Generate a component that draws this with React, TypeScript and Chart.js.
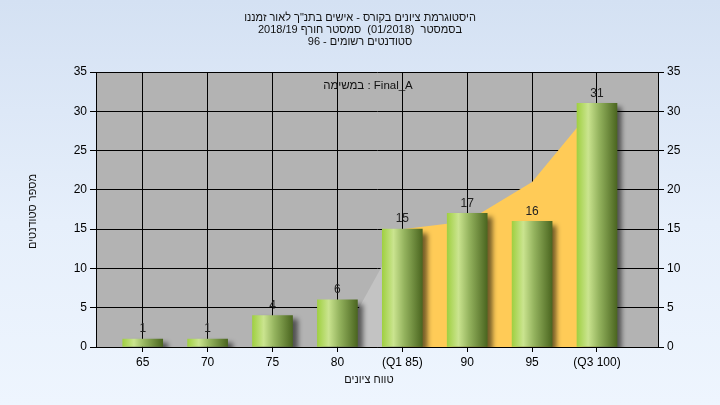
import React, { useEffect, useRef } from 'react';
import { Chart, registerables } from 'chart.js';

Chart.register(...registerables);

// ---- data ----
const grades = [65, 70, 75, 80, 85, 90, 95, 100];
const tickLabels = ['65', '70', '75', '80', '(Q1 85)', '90', '95', '(Q3 100)'];
const counts = [1, 1, 4, 6, 15, 17, 16, 31];
const lowerAreaX = [80, 85];
const lowerAreaY = [0, 15];
const iqrAreaX = [85, 90, 95, 100];
const iqrAreaY = [15, 16, 21, 31];
const yTicksMax = 35;
const yTickStep = 5;
const xMin = 61.4;
const xMax = 104.7;

const titleLines = [
  'היסטוגרמת ציונים בקורס - אישים בתנ"ך לאור זמננו',
  'בסמסטר  (01/2018)  סמסטר חורף 2018/19',
  'סטודנטים רשומים - 96',
];
const legendText = 'במשימה : Final_A';
const xTitle = 'טווח ציונים';
const yTitle = 'מספר סטודנטים';

const FONT = '"Liberation Sans", Arial, sans-serif';

// draws the words of a string one by one, placed from right to left, centred on cx
function drawWords(ctx: CanvasRenderingContext2D, text: string, cx: number, y: number) {
  const tokens = text.split(' ').reverse();
  const sp = ctx.measureText(' ').width;
  const widths = tokens.map((t) => (t ? ctx.measureText(t).width : 0));
  const total = widths.reduce((a, b) => a + b, 0) + sp * (tokens.length - 1);
  let x = cx - total / 2;
  ctx.save();
  ctx.textAlign = 'left';
  ctx.direction = 'ltr';
  tokens.forEach((t, i) => {
    if (t) ctx.fillText(t, x, y);
    x += widths[i] + sp;
  });
  ctx.restore();
}

export default function App() {
  const ref = useRef<HTMLCanvasElement | null>(null);

  useEffect(() => {
    const canvas = ref.current;
    if (!canvas) return;

    const plotBg = {
      id: 'plotBg',
      beforeDraw(chart: any) {
        const { ctx, chartArea: a } = chart;
        if (!a) return;
        ctx.save();
        ctx.fillStyle = '#B3B3B3';
        ctx.fillRect(a.left, a.top, a.right - a.left, a.bottom - a.top);
        ctx.restore();
      },
    };

    const barShadow = {
      id: 'barShadow',
      beforeDatasetDraw(chart: any, args: any) {
        if (args.meta.type !== 'bar') return;
        const ctx = chart.ctx;
        ctx.save();
        ctx.shadowColor = 'rgba(0,0,0,0.55)';
        ctx.shadowBlur = 5;
        ctx.shadowOffsetX = 5;
        ctx.shadowOffsetY = 4;
      },
      afterDatasetDraw(chart: any, args: any) {
        if (args.meta.type !== 'bar') return;
        chart.ctx.restore();
      },
    };

    const texts = {
      id: 'texts',
      afterDraw(chart: any) {
        const { ctx, chartArea: a } = chart;
        ctx.save();
        ctx.fillStyle = '#111';
        ctx.font = `11px ${FONT}`;
        ctx.textAlign = 'center';
        ctx.textBaseline = 'middle';
        ctx.direction = 'ltr';
        titleLines.forEach((t, i) => {
          drawWords(ctx, t, 360, 18 + i * 12);
        });
        drawWords(ctx, xTitle, 369, 380);
        ctx.save();
        ctx.translate(33, (a.top + a.bottom) / 2 + 2);
        ctx.rotate(-Math.PI / 2);
        ctx.direction = 'rtl';
        ctx.textAlign = 'center';
        ctx.fillText(yTitle, 0, 0);
        ctx.restore();
        ctx.font = `11.5px ${FONT}`;
        ctx.fillText(legendText, 368, 86);
        const meta = chart.getDatasetMeta(0);
        ctx.font = `12px ${FONT}`;
        ctx.fillStyle = '#222';
        ctx.textBaseline = 'bottom';
        meta.data.forEach((el: any, i: number) => {
          ctx.fillText(String(counts[i]), el.x, el.y - 4);
        });
        ctx.restore();
      },
    };

    const tickFont = { family: FONT, size: 12 };

    const chart = new Chart(canvas, {
      type: 'bar',
      data: {
        datasets: [
          {
            type: 'bar',
            label: 'Final_A',
            data: grades.map((g, i) => ({ x: g, y: counts[i] })),
            barThickness: 40,
            order: 0,
            backgroundColor: (c: any) => {
              const ch = c.chart;
              const xs = ch.scales?.x;
              if (!xs || c.dataIndex == null) return '#9CCB3C';
              const cx = xs.getPixelForValue(grades[c.dataIndex]);
              if (!Number.isFinite(cx)) return '#9CCB3C';
              const g = ch.ctx.createLinearGradient(cx - 20, 0, cx + 20, 0);
              g.addColorStop(0, '#A0D042');
              g.addColorStop(0.28, '#CAE48F');
              g.addColorStop(0.55, '#94B35E');
              g.addColorStop(1, '#4B6620');
              return g;
            },
            borderWidth: 0,
          } as any,
          {
            type: 'line',
            label: 'lower',
            data: lowerAreaX.map((x, i) => ({ x, y: lowerAreaY[i] })),
            order: 2,
            fill: 'origin',
            backgroundColor: '#C3C3C3',
            borderColor: 'rgba(0,0,0,0)',
            borderWidth: 0,
            pointRadius: 0,
            tension: 0,
          } as any,
          {
            type: 'line',
            label: 'iqr',
            data: iqrAreaX.map((x, i) => ({ x, y: iqrAreaY[i] })),
            order: 1,
            fill: 'origin',
            backgroundColor: '#FFCB57',
            borderColor: 'rgba(0,0,0,0)',
            borderWidth: 0,
            pointRadius: 0,
            tension: 0,
          } as any,
        ],
      },
      options: {
        animation: false,
        responsive: false,
        maintainAspectRatio: false,
        layout: { padding: { top: 72, left: 0, right: 0, bottom: 0 } },
        plugins: {
          legend: { display: false },
          tooltip: { enabled: false },
          title: { display: false },
        },
        scales: {
          x: {
            type: 'linear',
            min: xMin,
            max: xMax,
            offset: false,
            afterBuildTicks: (s: any) => {
              s.ticks = grades.map((v) => ({ value: v }));
            },
            afterFit: (s: any) => {
              s.height = 58;
            },
            ticks: {
              autoSkip: false,
              maxRotation: 0,
              padding: 3,
              color: '#000',
              font: tickFont,
              callback: (v: any) => {
                const i = grades.indexOf(Number(v));
                return i >= 0 ? tickLabels[i] : '';
              },
            },
            grid: { offset: false, color: '#000', lineWidth: 1, tickLength: 5 },
            border: { color: '#000', width: 1 },
          },
          y: {
            position: 'left',
            min: 0,
            max: yTicksMax,
            afterFit: (s: any) => {
              s.width = 96;
            },
            ticks: { stepSize: yTickStep, color: '#000', font: tickFont, padding: 3 },
            grid: { color: '#000', lineWidth: 1, tickLength: 6 },
            border: { color: '#000', width: 1 },
          },
          y2: {
            position: 'right',
            min: 0,
            max: yTicksMax,
            afterFit: (s: any) => {
              s.width = 62;
            },
            ticks: { stepSize: yTickStep, color: '#000', font: tickFont, padding: 3 },
            grid: { drawOnChartArea: false, color: '#000', lineWidth: 1, tickLength: 6 },
            border: { color: '#000', width: 1 },
          },
        },
      } as any,
      plugins: [plotBg, barShadow, texts],
    });

    return () => chart.destroy();
  }, []);

  return (
    <div
      style={{
        position: 'fixed',
        left: 0,
        top: 0,
        width: 720,
        height: 405,
        background: 'linear-gradient(180deg, #D4E1F3 0%, #E6EFFB 55%, #EEF5FE 100%)',
      }}
    >
      <canvas ref={ref} width={720} height={405} style={{ display: 'block' }} />
    </div>
  );
}
